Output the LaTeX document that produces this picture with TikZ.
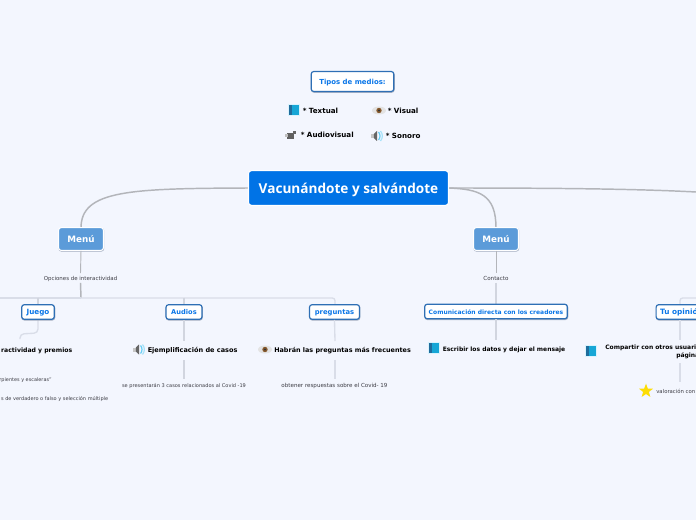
\documentclass[tikz,border=0pt]{standalone}
\usepackage{fontspec}
\setmainfont{DejaVu Sans}
\newfontfamily\titlefont{Open Sans}
\usetikzlibrary{shapes.geometric}
\definecolor{bgc}{HTML}{F3F6FE}
\definecolor{titleblue}{HTML}{0073E6}
\definecolor{menublue}{HTML}{5B9BD9}
\definecolor{txtblue}{HTML}{0A76E8}
\definecolor{boxedge}{HTML}{2E6FB5}
\definecolor{linedark}{HTML}{B3B5BA}
\definecolor{linelight}{HTML}{D9DDE8}
\definecolor{textgrey}{HTML}{3C3C44}
\definecolor{shadowc}{HTML}{A9B2C4}
\definecolor{bookc}{HTML}{16A6D6}
\definecolor{bookd}{HTML}{1F6C9C}
\tikzset{
 x=0.75pt,y=-0.75pt,
 softshadow/.style={preaction={draw=shadowc,fill=shadowc,transform canvas={xshift=.25pt,yshift=-.55pt}}},
 rootbox/.style={fill=titleblue,draw=white,line width=.8pt,rounded corners=2.2pt,text=white,font=\titlefont\fontsize{10.2}{12}\selectfont\bfseries,minimum width=150pt,minimum height=26pt,inner sep=0pt,text height=10.6pt,text depth=2.2pt},
 menubox/.style={softshadow,fill=menublue,draw=white,line width=.8pt,rounded corners=1.8pt,text=white,font=\fontsize{6.6}{7}\selectfont\bfseries,minimum width=33.5pt,minimum height=17pt,inner sep=0pt,text height=6.5pt,text depth=0.6pt},
 subbox/.style={softshadow,fill=white,draw=boxedge,line width=.9pt,rounded corners=2pt,text=txtblue,font=\fontsize{5}{6}\selectfont\bfseries,minimum height=11pt,inner sep=0pt,text height=5.4pt,text depth=1.1pt},
 boldtxt/.style={text=black,font=\fontsize{5}{6}\selectfont\bfseries,inner sep=0pt,text height=5.4pt,text depth=1.1pt},
 smalltxt/.style={text=textgrey,font=\fontsize{3.9}{5}\selectfont,inner sep=0pt,outer sep=1pt,text height=4.5pt,text depth=.8pt},
 darkline/.style={draw=linedark,line width=1.1pt},
 midline/.style={draw=linelight!80!linedark,line width=.8pt},
 lightline/.style={draw=linelight,line width=1pt},
 bookicon/.pic={\fill[cyan!15] (-6,-6) rectangle (6,6);\fill[bookc] (-4,-5) rectangle (5,5);\fill[bookd] (-5,-5) rectangle (-2,5);},
 eyeicon/.pic={\fill[gray!22] (0,0) ellipse (7 and 4);\fill[brown!70!black] (0,0) circle (2.7);\fill[black!80] (0,0) circle (1.2);},
 speakericon/.pic={\fill[gray!45] (-6,-2) rectangle (-3,2);\fill[black!60] (-3.2,-2) -- (0,-5) -- (0,5) -- (-3.2,2) -- cycle;\draw[cyan!60,line width=.9pt] (1.5,-4) .. controls (3.5,-2) and (3.5,2) .. (1.5,4);\draw[cyan!35,line width=.9pt] (3.5,-5) .. controls (6,-2) and (6,2) .. (3.5,5);},
 cameraicon/.pic={\fill[gray!75!black] (-4,-2) rectangle (3,4);\fill[gray!50] (-6,-1) rectangle (-3,2);\fill[gray!80!black] (2,-4) rectangle (5,-1);},
}
\begin{document}
\begin{tikzpicture}
\useasboundingbox (0,0) rectangle (696,520);
\clip (0,0) rectangle (696,520);
\fill[bgc] (0,0) rectangle (696,520);

% main nodes
\coordinate (farR) at (696,192);
\coordinate (rootE) at (448,188);
\coordinate (rootW) at (249,188);
\draw[darkline] (rootW) .. controls (130,188.5) and (81,190) .. (81,228);
\draw[darkline] (rootE) .. controls (480,189) and (496,195) .. (496,228);
\draw[darkline] (rootE) .. controls (560,188) and (640,189) .. (farR);
\node[rootbox] (root) at (348.5,188) {Vacunándote y salvándote};
\node[menubox] (menuL) at (81,239) {Menú};
\node[menubox] (menuR) at (496,239) {Menú};

% top cluster
\node[subbox,minimum width=62pt,minimum height=15pt,font=\fontsize{5.2}{6}\selectfont\bfseries] (tipos) at (352.5,81.5) {Tipos de medios:};
\begin{scope}[boldtxt/.append style={font=\fontsize{5.35}{6}\selectfont\bfseries}]
\node[boldtxt,anchor=west] (t1) at (302.5,110.5) {* Textual};
\node[boldtxt,anchor=west] (t2) at (387.5,110.5) {* Visual};
\node[boldtxt,anchor=west] (t3) at (300.5,134.5) {* Audiovisual};
\node[boldtxt,anchor=west] (t4) at (385.5,136) {* Sonoro};
\end{scope}
\pic at (293.5,110) {bookicon};
\pic at (379,110.5) {eyeicon};
\pic at (291,135) {cameraicon};
\pic at (377,136) {speakericon};

% labels under Menú
\node[smalltxt,font=\fontsize{4.1}{5}\selectfont] (opc) at (80.5,278) {Opciones de interactividad};
\node[smalltxt,font=\fontsize{4.2}{5}\selectfont] (cont) at (496,278) {Contacto};

% connectors down
\coordinate (busL) at (81,298);
\draw[darkline,line width=.7pt] (menuL.south) -- (opc.north);
\draw[darkline] (opc.south) -- (busL);
\draw[lightline] (0,298) -- (busL);
\draw[lightline,rounded corners=2pt] (busL) -- (335,298) -- (335,305);
\draw[darkline,line width=.7pt] (menuR.south) -- (cont.north);
\draw[midline] (cont.south) -- (496,305);
\draw[midline] (38,298) -- (38,305);
\draw[midline] (184,298) -- (184,305);
\coordinate (jt) at (20,339);
\draw[lightline,rounded corners=3pt] (38,319) -- (38,333) -- (20,334) -- (jt);
\coordinate (tuTop) at (696,298);
\draw[lightline,rounded corners=2pt] (tuTop) -- (680,298) -- (680,305);

% second level
\node[subbox,minimum width=24.5pt,font=\fontsize{5.4}{6}\selectfont\bfseries] (juego) at (38,312) {Juego};
\node[subbox,minimum width=27pt] (audios) at (184,312) {Audios};
\node[subbox,minimum width=37.5pt,font=\fontsize{5.1}{6}\selectfont\bfseries] (preg) at (334.5,312) {preguntas};
\node[subbox,minimum width=107pt,font=\fontsize{4.5}{6}\selectfont\bfseries] (com) at (496,311.5) {Comunicación directa con los creadores};
\node[subbox,minimum width=38pt,anchor=west,font=\fontsize{5.5}{6}\selectfont\bfseries] (tuop) at (655.5,312) {Tu opinión};

% third level
\node[boldtxt,anchor=east,font=\fontsize{4.6}{6}\selectfont\bfseries] (j3) at (72.5,349.5) {ractividad y premios};
\node[smalltxt,anchor=east,font=\fontsize{3.7}{5}\selectfont] (j4) at (53,379) {rpientes y escaleras"};
\node[smalltxt,anchor=east,font=\fontsize{3.75}{5}\selectfont] (j5) at (109.5,398) {s de verdadero o falso y selección múltiple};

\node[boldtxt,anchor=west,font=\fontsize{4.9}{6}\selectfont\bfseries] (a3) at (147.5,349.5) {Ejemplificación de casos};
\pic at (139,349.5) {speakericon};
\coordinate (a3t) at (184,341);
\coordinate (a3b) at (184,360);
\draw[midline] (audios.south) -- (a3t);
\draw[midline] (a3b) -- (184,379);
\node[smalltxt,font=\fontsize{3.78}{5}\selectfont] (a4) at (184,385) {se presentarán 3 casos relacionados al Covid -19};

\node[boldtxt,anchor=west,font=\fontsize{4.82}{6}\selectfont\bfseries] (p3) at (274,349.5) {Habrán las preguntas más frecuentes};
\pic at (265,349.5) {eyeicon};
\draw[lightline] (preg.south) -- (335,341);
\draw[lightline] (335,360) -- (335,379);
\node[smalltxt,font=\fontsize{4.17}{5}\selectfont] (p4) at (334.5,385) {obtener respuestas sobre el Covid- 19};

\node[boldtxt,anchor=west,font=\fontsize{4.5}{6}\selectfont\bfseries] (c3) at (442.5,348.5) {Escribir los datos y dejar el mensaje};
\pic at (434,348) {bookicon};
\draw[midline] (com.south) -- (496,340);

\node[boldtxt,anchor=west,font=\fontsize{4.5}{6}\selectfont\bfseries] (o3) at (605,346.5) {Compartir con otros usuari};
\node[boldtxt,anchor=west,font=\fontsize{4.5}{6}\selectfont\bfseries] (o4) at (676,354.5) {página};
\pic at (591,350.5) {bookicon};
\draw[lightline] (680,320) -- (680,340);
\draw[lightline] (680,363) -- (680,382);
\node[star,star points=5,star point ratio=2.4,fill=yellow!80!orange,inner sep=0pt,minimum size=11pt] (st) at (646,391) {};
\node[smalltxt,anchor=west,font=\fontsize{4}{5}\selectfont] (o5) at (655,391) {valoración con};
\end{tikzpicture}
\end{document}
